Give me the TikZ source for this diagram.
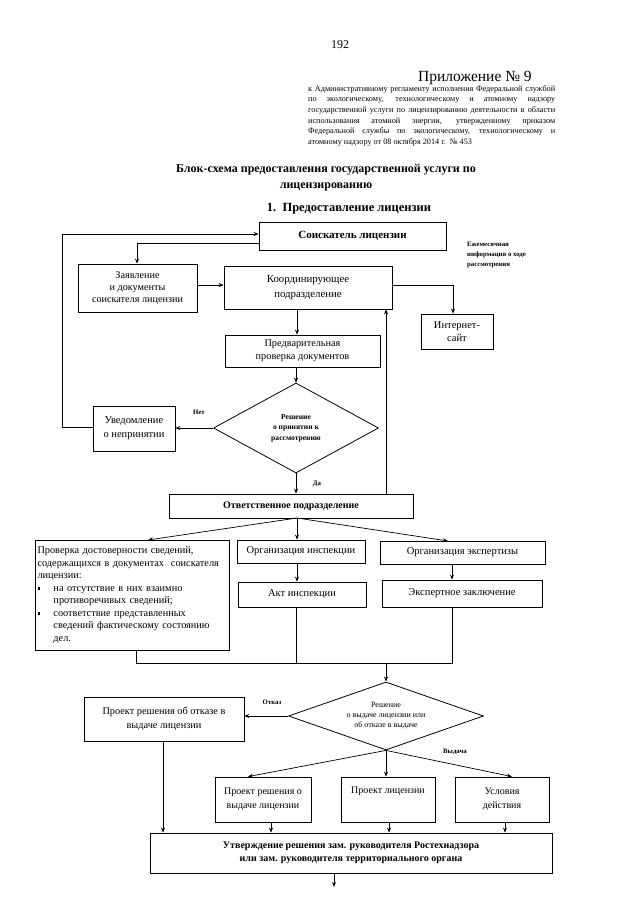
\documentclass[tikz,border=0pt]{standalone}
\usepackage{fontspec}
\setmainfont{Liberation Serif}
\usetikzlibrary{shapes.geometric,arrows.meta}
\newcommand{\fsz}[2]{\fontsize{#1}{#2}\selectfont}
\newcommand{\bul}{\makebox[16pt][l]{\rule[1.6pt]{2.4pt}{2.4pt}}}
\newcommand{\ind}{\hspace*{16pt}}
\begin{document}
\begin{tikzpicture}[x=1pt,y=-1pt,
  box/.style={draw, line width=0.8pt, inner sep=2pt, align=center},
  dia/.style={draw, diamond, line width=0.8pt, inner sep=0pt},
  arr/.style={line width=0.7pt, -{Stealth[length=5pt,width=4pt]}},
  ln/.style={line width=0.7pt},
  lbl/.style={font=\bfseries\fsz{6.8}{10}, inner sep=0pt}]
\useasboundingbox (0,0) rectangle (640,905);

% header
\node[font=\fsz{12}{14}] (pg) at (340,45) {192};
\node[font=\fsz{15.5}{17}, anchor=base west, inner sep=0pt] (pril) at (418,81) {Приложение № 9};
\node[anchor=north west, text width=247pt, align=justify, inner sep=0pt, font=\fsz{8.2}{10.7}] (hdr) at (308,85)
 {к Административному регламенту исполнения Федеральной службой\linebreak
  по экологическому, технологическому и атомному надзору\linebreak
  государственной услуги по лицензированию деятельности в области\linebreak
  использования атомной энергии, утвержденному приказом\linebreak
  Федеральной службы по экологическому, технологическому и\linebreak
  атомному надзору от 08 октября 2014 г.\ \ № 453};

\node[font=\bfseries\fsz{12}{16}, align=center] (title) at (326,178)
 {Блок-схема предоставления государственной услуги по\\лицензированию};
\node[font=\bfseries\fsz{12.5}{15}] (sub) at (349,209) {1.\ \ Предоставление лицензии};

% boxes
\node[box, minimum width=187pt, minimum height=28pt, font=\bfseries\fsz{11}{13}] (sois) at (352.5,236) {Соискатель лицензии};
\node[box, minimum width=119pt, minimum height=48pt, font=\fsz{10.2}{12}] (zayav) at (137.5,288) {Заявление\\и документы\\соискателя лицензии};
\node[box, minimum width=168pt, minimum height=43pt, font=\fsz{10.8}{14.5}] (koord) at (308,287.5) {Координирующее\\подразделение};
\node[box, minimum width=72pt, minimum height=35pt, font=\fsz{10.5}{13.5}] (inet) at (457,331.5) {Интернет-\\сайт};
\node[box, minimum width=155pt, minimum height=32pt, font=\fsz{10.3}{13}] (pred) at (302.5,351) {Предварительная\\проверка документов};
\node[dia, minimum width=165pt, minimum height=90pt] (d1) at (296,428) {};
\node[align=center, inner sep=0pt, font=\bfseries\fsz{7.6}{10.5}] (d1t) at (d1.center) {Решение\\о принятии к\\рассмотрению};
\node[box, minimum width=82pt, minimum height=45pt, font=\fsz{10.5}{14}] (uved) at (134,428.5) {Уведомление\\о непринятии};
\node[box, minimum width=244pt, minimum height=24pt, font=\bfseries\fsz{10}{12}] (otv) at (291,506) {Ответственное подразделение};

\node[box, minimum width=194pt, minimum height=110pt, text width=189pt, align=left, inner sep=1.5pt, font=\fsz{10.3}{12.5}] (prov) at (132,595)
 {Проверка достоверности сведений,\\
  содержащихся в документах\ \ соискателя\\
  лицензии:\\
  \bul на отсутствие в них взаимно\\
  \ind противоречивых сведений;\\
  \bul соответствие представленных\\
  \ind сведений фактическому состоянию\\
  \ind дел.};
\node[box, minimum width=128pt, minimum height=23pt, font=\fsz{10.5}{12}] (orgi) at (301,551.5) {Организация инспекции};
\node[box, minimum width=165pt, minimum height=23pt, font=\fsz{10.5}{12}] (orge) at (462.5,552.5) {Организация экспертизы};
\node[box, minimum width=128pt, minimum height=25pt, font=\fsz{10.5}{12}] (akt) at (302,594.5) {Акт инспекции};
\node[box, minimum width=160pt, minimum height=27pt, font=\fsz{10.5}{12}] (eksp) at (462,593.5) {Экспертное заключение};

\node[dia, minimum width=195pt, minimum height=68pt] (d2) at (386,716) {};
\node[align=center, inner sep=0pt, font=\fsz{8}{10}] (d2t) at (d2.center) {Решение\\о выдаче лицензии или\\об отказе в выдаче};
\node[box, minimum width=160pt, minimum height=44pt, font=\fsz{10.3}{14.5}] (otkaz) at (164,719) {Проект решения об отказе в\\выдаче лицензии};
\node[box, minimum width=96pt, minimum height=45pt, font=\fsz{10}{14}] (pvyd) at (263,799.5) {Проект решения о\\выдаче лицензии};
\node[box, minimum width=94pt, minimum height=45pt, font=\fsz{10}{14}] (plic) at (388,799.5) {Проект лицензии\\\strut};
\node[box, minimum width=94pt, minimum height=45pt, font=\fsz{10}{14}] (usl) at (502,799.5) {Условия\\действия};
\node[box, minimum width=402pt, minimum height=40pt, font=\bfseries\fsz{10}{13}] (utv) at (351,853) {Утверждение решения зам. руководителя Ростехнадзора\\или зам. руководителя территориального органа};

% labels
\node[lbl, align=left, anchor=north west] (info) at (467,242) {Ежемесячная\\информация о ходе\\рассмотрения};
\node[lbl] (net) at (199,412) {Нет};
\node[lbl] (da) at (317,484) {Да};
\node[lbl] (otk) at (272,702) {Отказ};
\node[lbl] (vyd) at (455,752) {Выдача};

% helper coordinates
\coordinate (x137) at (137,0);
\coordinate (x453) at (453,0);
\coordinate (x297) at (297,0);
\coordinate (x386) at (386,0);
\coordinate (x136) at (136,0);
\coordinate (x452) at (452,0);
\coordinate (x163) at (163,0);
\coordinate (y243) at (0,243);
\coordinate (y285) at (0,285);
\coordinate (lp1) at (62,427);
\coordinate (lp2) at (62,234);
\coordinate (bp) at (297,518);
\coordinate (j1) at (136,663);
\coordinate (j2) at (296,663);
\coordinate (j3) at (452,663);
\coordinate (j4) at (386,663);
\coordinate (endarr) at (334,887);

% connectors
\draw[arr] (uved.west |- lp1) -- (lp1) -- (lp2) -- (sois.west |- lp2);
\draw[arr] (sois.west |- y243) -- (x137 |- y243) -- (zayav.north -| x137);
\draw[arr] (zayav.east |- y285) -- (koord.west |- y285);
\draw[arr] (koord.east |- y285) -- (x453 |- y285) -- (inet.north -| x453);
\draw[arr] (koord.south -| x297) -- (pred.north -| x297);
\draw[arr] (pred.south -| d1.north) -- (d1.north);
\draw[arr] (d1.west) -- (uved.east |- d1.west);
\draw[arr] (d1.south) -- (otv.north -| d1.south);
\draw[arr] (otv.north -| x386) -- (koord.south -| x386);

\draw[arr] (bp) -- (148,540);
\draw[arr] (bp) -- (orgi.north -| x297);
\draw[arr] (bp) -- (448,541);
\draw[arr] (orgi.south -| x297) -- (akt.north -| x297);
\draw[arr] (orge.south -| x452) -- (eksp.north -| x452);

\draw[ln] (prov.south -| x136) -- (j1) -- (j3) -- (eksp.south -| x452);
\draw[ln] (akt.south -| j2) -- (j2);
\draw[arr] (j4) -- (d2.north);

\draw[arr] (d2.west) -- (otkaz.east |- d2.west);
\draw[arr] (otkaz.south -| x163) -- (utv.north -| x163);
\draw[arr] (d2.south) -- (pvyd.north -| 248,0);
\draw[arr] (d2.south) -- (plic.north -| d2.south);
\draw[arr] (d2.south) -- (usl.north -| 512,0);
\draw[arr] (pvyd.south -| 271,0) -- (utv.north -| 271,0);
\draw[arr] (plic.south -| 389,0) -- (utv.north -| 389,0);
\draw[arr] (usl.south -| 505,0) -- (utv.north -| 505,0);
\draw[arr] (utv.south -| endarr) -- (endarr);
\end{tikzpicture}
\end{document}
